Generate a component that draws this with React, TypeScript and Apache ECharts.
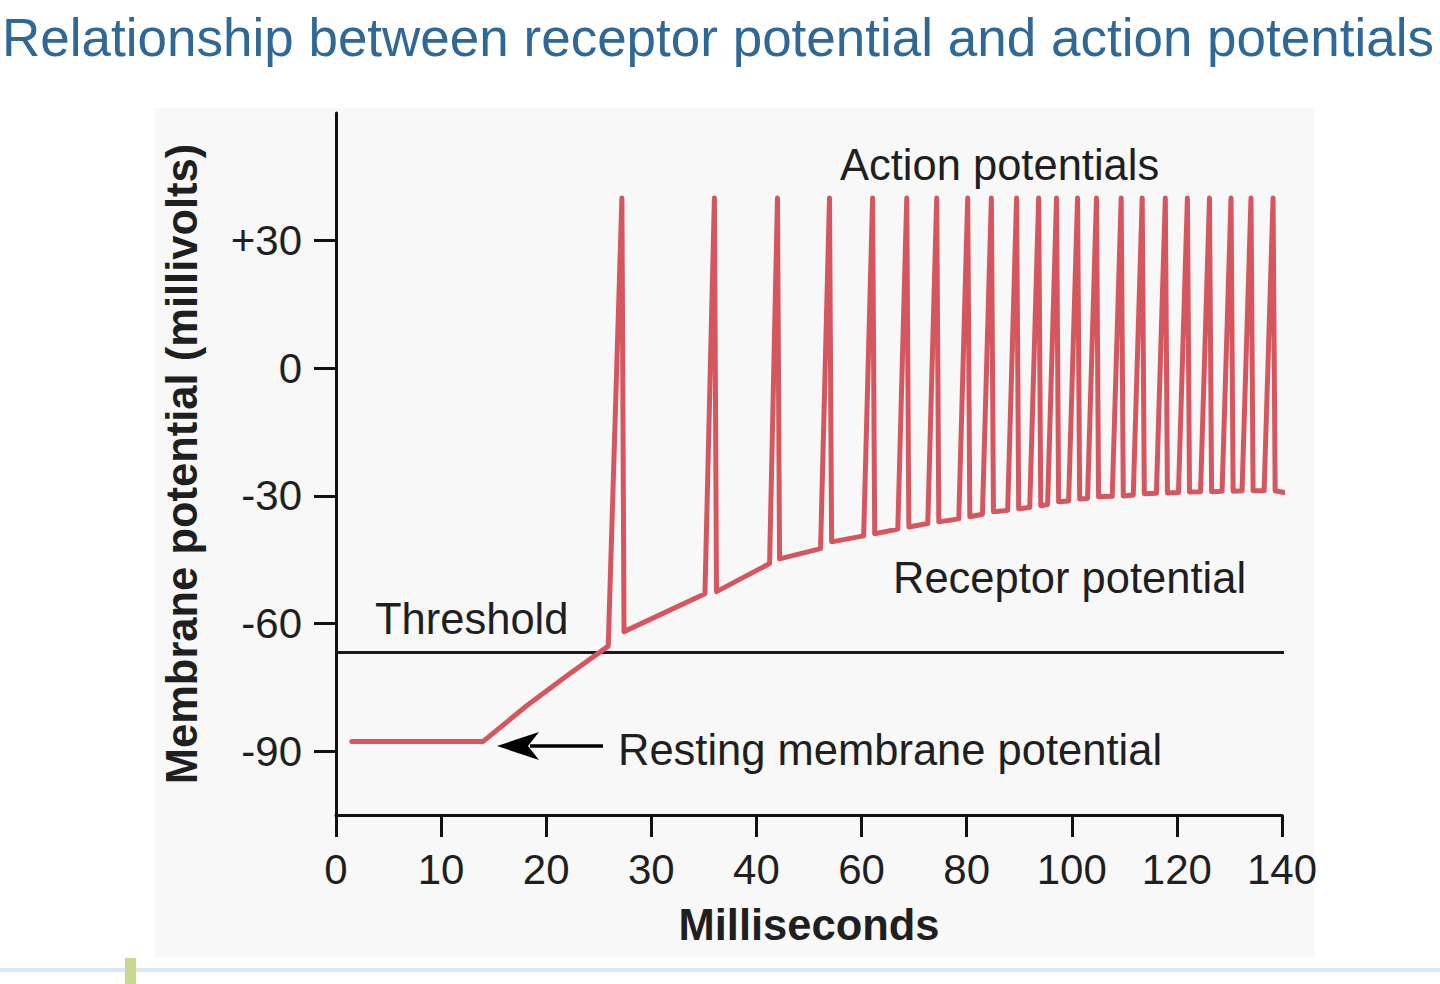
import React, { useEffect, useRef } from "react";
import * as echarts from "echarts";

const TITLE = "Relationship between receptor potential and action potentials";

// x-axis tick labels (milliseconds) – drawn evenly spaced as in the figure
const xTickLabels = [0, 10, 20, 30, 40, 60, 80, 100, 120, 140];
const yTickValues = [-90, -60, -30, 0, 30];

// resting potential and generator ramp before first spike [ms, mV]
const prefixMs = [1.5, 14.0, 18.2, 22.0];
const prefixMv = [-87.7, -87.7, -79.2, -72.2];

// action potentials
const peakMv = 40;
const spikeOnsetMs = [25.9, 35.1, 42.5, 52.2, 60.4, 66.9, 72.6, 78.5, 83.0, 87.8, 92.0, 95.4, 99.4, 103.0, 107.7, 111.7, 116.1, 120.3, 124.5, 128.6, 132.4, 136.6];
const spikeOnsetMv = [-65.3, -53.0, -45.9, -42.4, -39.4, -37.8, -36.5, -35.4, -34.3, -33.4, -32.7, -32.0, -31.2, -30.6, -30.1, -29.8, -29.4, -29.2, -29.0, -28.9, -28.8, -28.8];
const spikePeakMs = [27.2, 36.0, 44.0, 53.9, 62.1, 68.6, 74.3, 80.2, 84.7, 89.5, 93.7, 97.1, 101.1, 104.7, 109.4, 113.4, 117.8, 122.0, 126.2, 130.3, 134.1, 138.3];
const spikeTroughMs = [27.4, 36.2, 44.4, 54.3, 62.5, 69.0, 74.7, 80.6, 85.1, 89.9, 94.1, 97.5, 101.5, 105.1, 109.8, 113.8, 118.2, 122.4, 126.6, 130.7, 134.5, 138.7];
const spikeTroughMv = [-61.9, -52.5, -44.8, -40.8, -38.9, -37.3, -36.1, -34.9, -33.7, -33.0, -32.3, -31.4, -30.7, -30.2, -30.0, -29.5, -29.3, -29.1, -29.0, -28.9, -28.8, -28.8];
const endPoint = [140.4, -29.2];

const thresholdMv = -66.8;
const thresholdSpanMs = [0, 140.4];

// map milliseconds onto the evenly spaced tick positions
function toAxis(ms: number): number {
  for (let i = 0; i < xTickLabels.length - 1; i++) {
    const a = xTickLabels[i];
    const b = xTickLabels[i + 1];
    if (ms <= b || i === xTickLabels.length - 2) {
      return i + (ms - a) / (b - a);
    }
  }
  return 0;
}

function buildTrace(): number[][] {
  const pts: number[][] = [];
  prefixMs.forEach((m, i) => pts.push([toAxis(m), prefixMv[i]]));
  spikePeakMs.forEach((p, i) => {
    pts.push([toAxis(spikeOnsetMs[i]), spikeOnsetMv[i]]);
    pts.push([toAxis(p), peakMv]);
    pts.push([toAxis(spikeTroughMs[i]), spikeTroughMv[i]]);
  });
  pts.push([toAxis(endPoint[0]), endPoint[1]]);
  return pts;
}

const FONT = "'Liberation Sans', Arial, Helvetica, sans-serif";
const TXT = "#1f1f1f";
const ANN = 43.5;

export default function App() {
  const ref = useRef<HTMLDivElement>(null);
  useEffect(() => {
    if (!ref.current) return;
    const chart = echarts.init(ref.current, undefined, { renderer: "svg" });
    const option: any = {
      animation: false,
      backgroundColor: "#ffffff",
      textStyle: { fontFamily: FONT },
      grid: { left: 336, right: 158, top: 113, bottom: 169 },
      xAxis: {
        type: "value",
        min: 0,
        max: xTickLabels.length - 1,
        name: "Milliseconds",
        nameLocation: "middle",
        nameGap: 88,
        nameTextStyle: { fontFamily: FONT, fontSize: 43.5, fontWeight: "bold", color: TXT },
        axisLine: { show: true, onZero: false, lineStyle: { color: "#111", width: 3 } },
        axisTick: { show: true, inside: false, length: 22, lineStyle: { color: "#111", width: 3 }, customValues: xTickLabels.map((_, i) => i) },
        axisLabel: {
          show: true,
          margin: 33,
          fontFamily: FONT,
          fontSize: 42,
          color: TXT,
          customValues: xTickLabels.map((_, i) => i),
          formatter: (v: number) => String(xTickLabels[Math.round(v)]),
        },
        splitLine: { show: false },
      },
      yAxis: {
        type: "value",
        min: -105,
        max: 60,
        name: "Membrane potential (millivolts)",
        nameLocation: "middle",
        nameGap: 132,
        nameRotate: 90,
        nameTextStyle: { fontFamily: FONT, fontSize: 43.5, fontWeight: "bold", color: TXT, padding: [0, 0, 0, 0] },
        axisLine: { show: true, onZero: false, lineStyle: { color: "#111", width: 3 } },
        axisTick: { show: true, inside: false, length: 22, lineStyle: { color: "#111", width: 3 }, customValues: yTickValues },
        axisLabel: {
          show: true,
          margin: 34,
          fontFamily: FONT,
          fontSize: 42,
          color: TXT,
          customValues: yTickValues,
          formatter: (v: number) => (v > 0 ? "+" + v : String(v)),
        },
        splitLine: { show: false },
      },
      title: {
        text: TITLE,
        left: -3,
        top: 6,
        textStyle: { fontFamily: FONT, fontSize: 53, fontWeight: "normal", color: "#2f6797" },
      },
      graphic: [
        { type: "rect", z: -100, shape: { x: 155, y: 108, width: 1160, height: 849 }, style: { fill: "#f8f8f8" } },
        { type: "rect", z: -100, shape: { x: 0, y: 968, width: 1440, height: 4 }, style: { fill: "#d8eaf8" } },
        { type: "rect", z: 10, shape: { x: 125, y: 958, width: 11, height: 26 }, style: { fill: "#c6d98c" } },
        { type: "text", x: 840, y: 165, style: { text: "Action potentials", fontFamily: FONT, fontSize: ANN, fill: TXT, verticalAlign: "middle", textAlign: "left" } },
        { type: "text", x: 893, y: 578, style: { text: "Receptor potential", fontFamily: FONT, fontSize: ANN, fill: TXT, verticalAlign: "middle", textAlign: "left" } },
        { type: "text", x: 375, y: 619, style: { text: "Threshold", fontFamily: FONT, fontSize: ANN, fill: TXT, verticalAlign: "middle", textAlign: "left" } },
        { type: "text", x: 618, y: 750, style: { text: "Resting membrane potential", fontFamily: FONT, fontSize: ANN, fill: TXT, verticalAlign: "middle", textAlign: "left" } },
        { type: "line", shape: { x1: 603, y1: 746, x2: 530, y2: 746 }, style: { stroke: "#000", lineWidth: 3.5 } },
        { type: "polygon", shape: { points: [[497, 746], [539, 732], [528, 746], [539, 760]] }, style: { fill: "#000" } },
      ],
      series: [
        {
          type: "line",
          name: "Threshold",
          data: thresholdSpanMs.map((m) => [toAxis(m), thresholdMv]),
          symbol: "none",
          lineStyle: { color: "#1a1a1a", width: 3 },
          z: 2,
        },
        {
          type: "line",
          name: "Membrane potential",
          data: buildTrace(),
          symbol: "none",
          lineStyle: { color: "#d6565f", width: 5, join: "round", cap: "round" },
          z: 3,
        },
      ],
    };
    chart.setOption(option);
    return () => chart.dispose();
  }, []);
  return <div ref={ref} style={{ position: "fixed", left: 0, top: 0, width: 1440, height: 984 }} />;
}
